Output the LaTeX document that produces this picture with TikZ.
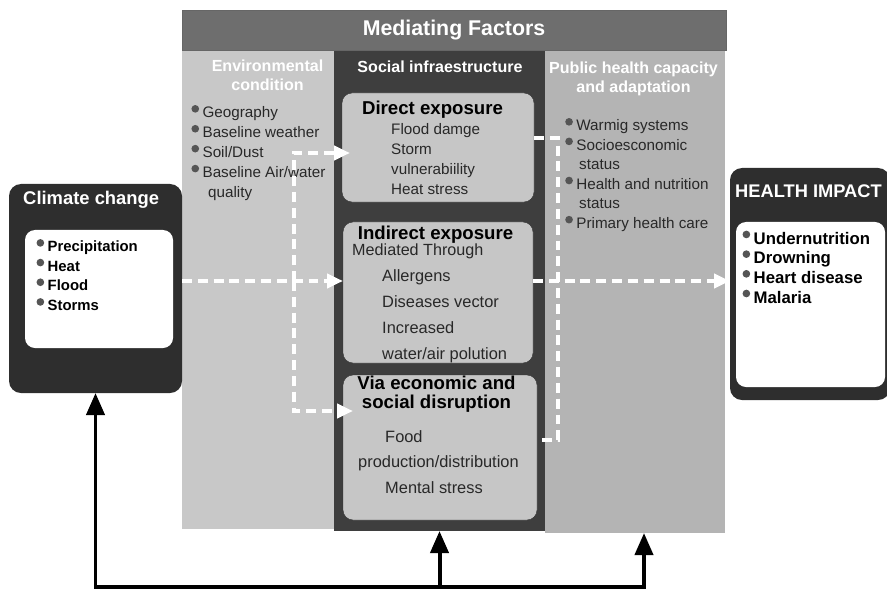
\documentclass[tikz,border=0pt]{standalone}
\usepackage{fontspec}
\setmainfont{Liberation Sans}
\usetikzlibrary{arrows.meta,positioning}
\definecolor{bandgray}{RGB}{110,110,110}
\definecolor{envgray}{RGB}{200,200,200}
\definecolor{socdark}{RGB}{62,62,62}
\definecolor{pubgray}{RGB}{180,180,180}
\definecolor{boxgray}{RGB}{198,198,198}
\definecolor{termdark}{RGB}{46,46,46}
\definecolor{dotgray}{RGB}{85,85,85}
\definecolor{txtgray}{RGB}{40,40,40}
\newcommand{\itemdot}{\raisebox{\dimexpr0.58em-0.115cm}[0pt][0pt]{\tikz\fill[dotgray] (0,0) circle (0.115cm);}\hspace{3pt}}

\begin{document}
\begin{tikzpicture}[x=0.03cm,y=-0.03cm,
  panel/.style={anchor=north west,inner sep=0,outer sep=0},
  hdr/.style={text=white,font=\bfseries\fontsize{13.7}{16.2}\selectfont,align=center,inner sep=0},
  expbox/.style={panel,draw=black!80,fill=boxgray,rounded corners=0.3cm},
  boxttl/.style={inner sep=0,align=center,font=\bfseries\fontsize{15.9}{16.2}\selectfont},
  lst/.style={anchor=north west,inner sep=0,align=left,text=txtgray},
  term/.style={panel,fill=termdark,rounded corners=0.36cm},
  termin/.style={panel,fill=white,rounded corners=0.3cm},
  termttl/.style={anchor=base west,inner sep=0,text=white,font=\bfseries\fontsize{15.7}{18}\selectfont},
  blst/.style={lst,text=black,font=\bfseries\fontsize{12.7}{16.8}\selectfont},
  flow/.style={draw=white,line width=3.4pt,dash pattern=on 8.5pt off 5pt,-{Triangle[length=0.48cm,width=0.42cm]}},
  link/.style={draw=white,line width=3.4pt,dash pattern=on 8.5pt off 5pt},
  feed/.style={draw=black,line width=3.4pt},
  uparr/.style={-{Triangle[length=0.66cm,width=0.54cm]}},
]
\useasboundingbox (0,0) rectangle (887,593);
% mediating factors
\node[panel,fill=envgray,minimum width=4.56cm,minimum height=14.37cm] (env) at (182,50) {};
\node[panel,fill=socdark,minimum width=6.33cm,minimum height=14.43cm] (soc) at (334,50) {};
\node[panel,fill=pubgray,minimum width=5.4cm,minimum height=14.49cm] (pub) at (545,50) {};
\node[panel,fill=bandgray,draw=black!60,minimum width=16.32cm,minimum height=1.2cm,text=white,
  font=\bfseries\fontsize{18.2}{20}\selectfont] (med) at (182,10) {Mediating Factors};
\node[hdr,anchor=north] (envh) at (267.5,60) {Environmental\\condition};
\node[hdr] (soch) at (440,67) {Social infraestructure};
\node[hdr,anchor=north] (pubh) at (633.5,62) {Public health capacity\\and adaptation};
\node[lst,font=\fontsize{13}{17}\selectfont] (envl) at (191.2,106.4)
  {\itemdot Geography\\ \itemdot Baseline weather\\ \itemdot Soil/Dust\\ \itemdot Baseline Air/water\\ \hspace*{0.5cm}quality};
\node[lst,font=\fontsize{13}{16.7}\selectfont] (publ) at (565,119.4)
  {\itemdot Warmig systems\\ \itemdot Socioesconomic\\ \hspace*{0.42cm}status\\ \itemdot Health and nutrition\\ \hspace*{0.42cm}status\\ \itemdot Primary health care};
% exposure boxes
\node[expbox,minimum width=5.76cm,minimum height=3.27cm] (direct) at (342,93) {};
\node[boxttl,anchor=base] (directt) at (432.5,114.7) {Direct exposure};
\node[lst,font=\fontsize{13}{17}\selectfont] (directl) at (391,123.4) {Flood damge\\Storm\\vulnerabiility\\Heat stress};
\node[expbox,minimum width=5.7cm,minimum height=4.23cm] (indir) at (343,222) {};
\node[boxttl,anchor=base] (indirt) at (435.5,239.7) {Indirect exposure};
\node[lst,anchor=base west,font=\fontsize{13.8}{16}\selectfont] (indirm) at (352,255.5) {Mediated Through};
\node[lst,font=\fontsize{14}{22.2}\selectfont] (indirl) at (382,269) {Allergens\\Diseases vector\\Increased\\water/air polution};
\node[expbox,minimum width=5.82cm,minimum height=4.35cm] (via) at (343,375) {};
\node[boxttl,anchor=north] (viat) at (436.5,376.2) {Via economic and\\social disruption};
\node[lst,font=\fontsize{14}{21.8}\selectfont] (vial) at (358,430.1)
  {\hspace*{0.81cm}Food\\production/distribution\\\hspace*{0.81cm}Mental stress};
% climate change
\node[term,minimum width=5.19cm,minimum height=6.27cm] (clim) at (9,184) {};
\node[termttl] (climt) at (23,204.6) {Climate change};
\node[termin,minimum width=4.44cm,minimum height=3.54cm] (climin) at (25,230) {};
\node[blst] (climl) at (36.3,240.5) {\itemdot Precipitation\\ \itemdot Heat\\ \itemdot Flood\\ \itemdot Storms};
% health impact
\node[term,minimum width=4.8cm,minimum height=6.96cm] (hlth) at (730,168) {};
\node[termttl,font=\bfseries\fontsize{15.6}{18}\selectfont] (hlthk) at (735,198) {HEALTH IMPACT};
\node[termin,minimum width=4.47cm,minimum height=4.95cm] (hlthin) at (736,222) {};
\node[blst,font=\bfseries\fontsize{14.3}{16.8}\selectfont] (hlthl) at (742.3,231.8)
  {\itemdot Undernutrition\\ \itemdot Drowning\\ \itemdot Heart disease\\ \itemdot Malaria};
% pathways
\coordinate (lvl) at (0,281);
\coordinate (fork) at (294,281);
\coordinate (join) at (558,281);
\draw[flow] (clim.east |- lvl) -- (indir.west |- lvl);
\draw[flow,shorten >=-0.24cm] (fork) |- ([yshift=-0.165cm]direct.west);
\draw[flow,shorten >=-0.3cm] (fork) |- ([yshift=1.095cm]via.west);
\draw[link] ([yshift=0.285cm]direct.east) -| (join) |- ([yshift=0.225cm]via.east);
\draw[flow] (indir.east |- lvl) -- (hlth.west |- lvl);
% feedback
\coordinate (foot) at (0,587);
\coordinate (pubfoot) at (644,587);
\draw[feed,line cap=rect] (clim.south |- foot) -- (pubfoot);
\draw[feed,uparr] (clim.south |- foot) -- (clim.south);
\draw[feed,uparr] (soc.south |- foot) -- (soc.south);
\draw[feed,uparr] (pubfoot) -- (pubfoot |- pub.south);
\end{tikzpicture}
\end{document}
